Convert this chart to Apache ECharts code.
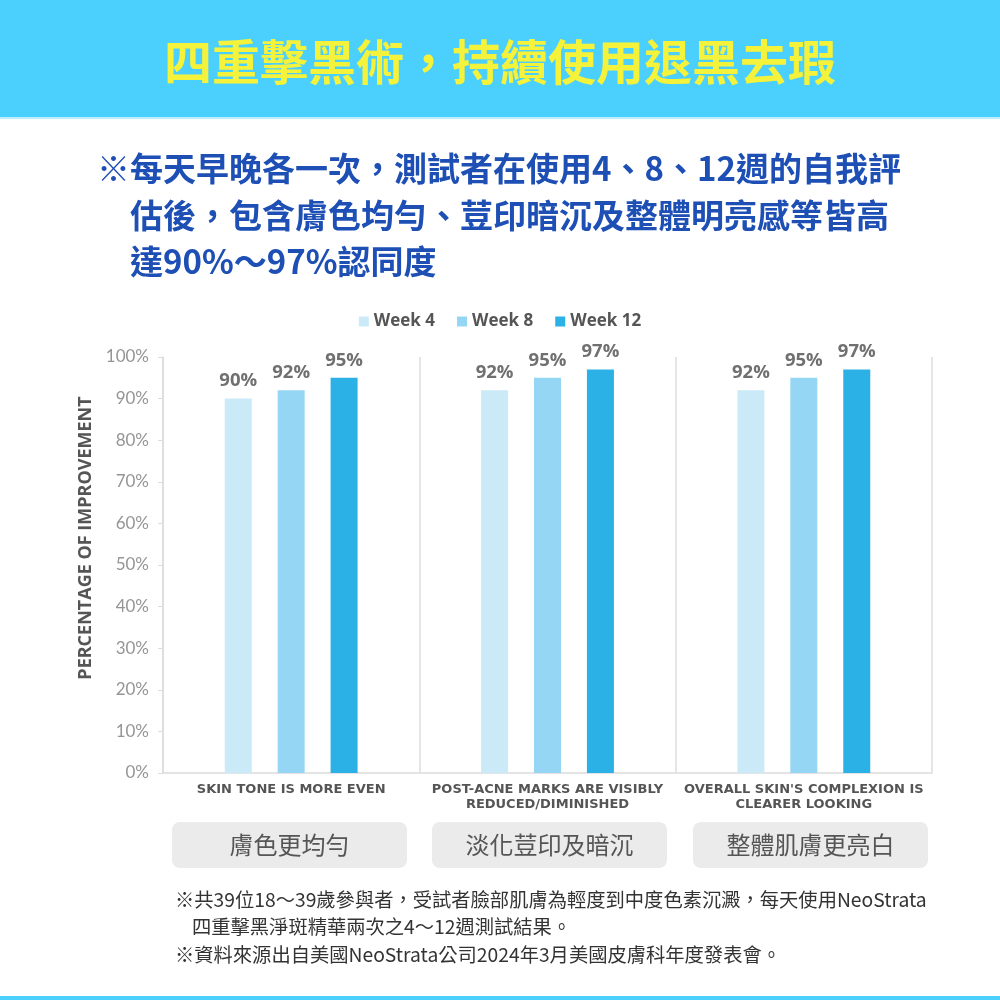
<!DOCTYPE html>
<html>
<head>
<meta charset="utf-8">
<script src="https://cdn.jsdelivr.net/npm/echarts@6/dist/echarts.min.js"></script>
<style>html,body{margin:0;padding:0;background:#fff;}#chart{width:1000px;height:1000px;}</style>
</head>
<body>
<div id="chart"></div>
<script>
const categories = ['SKIN TONE IS MORE EVEN', 'POST-ACNE MARKS ARE VISIBLY\nREDUCED/DIMINISHED', "OVERALL SKIN'S COMPLEXION IS\nCLEARER LOOKING"];
const seriesNames = ['Week 4', 'Week 8', 'Week 12'];
const week4 = [90, 92, 92];
const week8 = [92, 95, 95];
const week12 = [95, 97, 97];
const yTicks = [0, 10, 20, 30, 40, 50, 60, 70, 80, 90, 100];
const yAxisTitle = 'PERCENTAGE OF IMPROVEMENT';
const zhLabels = ['膚色更均勻', '淡化荳印及暗沉', '整體肌膚更亮白'];
const titleText = '四重擊黑術，持續使用退黑去瑕';
const subtitleLines = ['※每天早晚各一次，測試者在使用4、8、12週的自我評', '估後，包含膚色均勻、荳印暗沉及整體明亮感等皆高', '達90%～97%認同度'];
const footLines = ['※共39位18～39歲參與者，受試者臉部肌膚為輕度到中度色素沉澱，每天使用NeoStrata', '四重擊黑淨斑精華兩次之4～12週測試結果。', '※資料來源出自美國NeoStrata公司2024年3月美國皮膚科年度發表會。'];

const colors = ['#cbeaf8', '#94d6f3', '#2bb1e6'];
const CJK = '"Noto Sans CJK TC", "Noto Sans CJK SC", sans-serif';
const LAT = 'Lato, "Open Sans", sans-serif';
const BOLD = '"Open Sans", "DejaVu Sans", sans-serif';
const WIDE = '"DejaVu Sans", "Open Sans", sans-serif';

const chart = echarts.init(document.getElementById('chart'));

const graphics = [
  { type: 'rect', shape: { x: 0, y: 0, width: 1000, height: 117 }, style: { fill: '#4bcffd' }, z: 0 },
  { type: 'rect', shape: { x: 0, y: 117, width: 1000, height: 2 }, style: { fill: '#bfeefd' }, z: 0 },
  { type: 'text', x: 500, y: 62, style: { text: titleText, font: 'bold 48px ' + CJK, fill: '#f4f23a', align: 'center', verticalAlign: 'middle' } },
  { type: 'rect', shape: { x: 0, y: 996, width: 1000, height: 4 }, style: { fill: '#4bcffd' } },
  { type: 'text', x: 86, y: 538, rotation: Math.PI / 2, style: { text: yAxisTitle, font: 'bold 18px ' + BOLD, fill: '#555', align: 'center', verticalAlign: 'middle' } }
];
const subX = [97, 130, 130];
const subY = [168, 215, 261];
subtitleLines.forEach((t, i) => graphics.push({ type: 'text', x: subX[i], y: subY[i], style: { text: t, font: 'bold 33px ' + CJK, fill: '#1d4fb5', verticalAlign: 'middle' } }));
const boxX = [172, 432, 693];
zhLabels.forEach((t, i) => {
  graphics.push({ type: 'rect', shape: { x: boxX[i], y: 822, width: 235, height: 46, r: 8 }, style: { fill: '#ebebeb' } });
  graphics.push({ type: 'text', x: boxX[i] + 117.5, y: 845, style: { text: t, font: '24px ' + CJK, fill: '#555', align: 'center', verticalAlign: 'middle' } });
});
const footX = [175, 192, 175];
const footY = [900, 927, 955];
footLines.forEach((t, i) => graphics.push({ type: 'text', x: footX[i], y: footY[i], style: { text: t, font: '19.3px ' + CJK, fill: '#333', verticalAlign: 'middle' } }));

const dataSets = [week4, week8, week12];
chart.setOption({
  animation: false,
  color: colors,
  graphic: graphics,
  legend: {
    data: seriesNames,
    top: 308,
    left: 'center',
    icon: 'rect',
    itemWidth: 10,
    itemHeight: 10,
    itemGap: 22,
    textStyle: { fontFamily: BOLD, fontWeight: 'bold', fontSize: 17, color: '#555' }
  },
  grid: { left: 163, right: 68, top: 357, bottom: 227 },
  xAxis: {
    type: 'category',
    data: categories,
    axisLine: { lineStyle: { color: '#dcdcdc', width: 1.5 } },
    axisTick: { show: false },
    splitLine: { show: true, lineStyle: { color: '#dcdcdc', width: 1.5 } },
    axisLabel: { interval: 0, margin: 9, fontFamily: WIDE, fontWeight: 'bold', fontSize: 13, color: '#555', lineHeight: 15 }
  },
  yAxis: {
    type: 'value',
    min: 0,
    max: 100,
    interval: 10,
    axisLine: { show: true, lineStyle: { color: '#dcdcdc', width: 1.5 } },
    axisTick: { show: true, length: 5, lineStyle: { color: '#dcdcdc' } },
    splitLine: { show: false },
    axisLabel: { formatter: '{value}%', margin: 14, fontFamily: LAT, fontSize: 17, color: '#959595' }
  },
  series: seriesNames.map((n, i) => ({
    name: n,
    type: 'bar',
    data: dataSets[i],
    barWidth: 27,
    barGap: '96%',
    label: { show: true, position: 'top', distance: 8, formatter: '{c}%', fontFamily: BOLD, fontWeight: 'bold', fontSize: 18.5, color: '#707070' }
  }))
});
</script>
</body>
</html>
